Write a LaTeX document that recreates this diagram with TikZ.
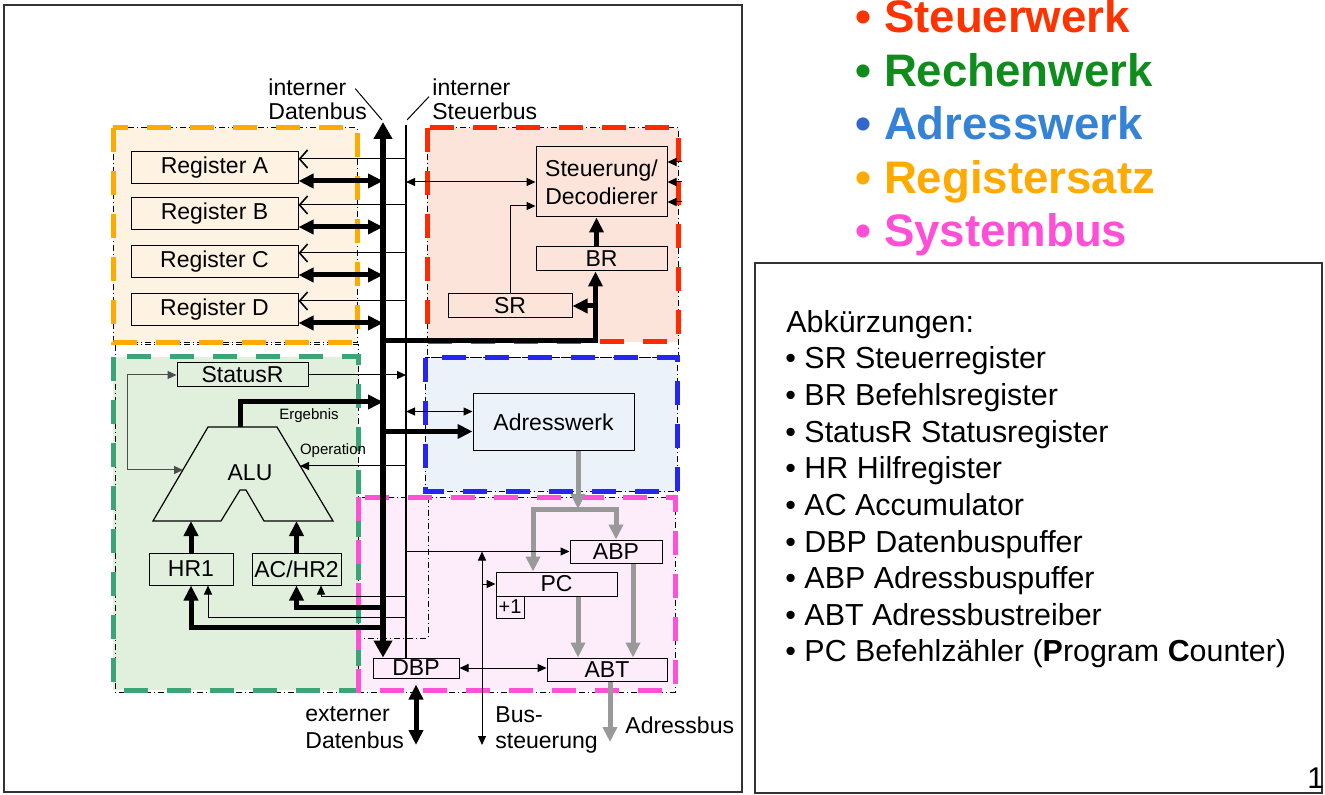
\documentclass[tikz,border=0pt]{standalone}
\usepackage{fontspec}
\setmainfont{Liberation Sans}
\usetikzlibrary{arrows.meta}
\definecolor{regfill}{HTML}{FEF3E2}
\definecolor{regline}{HTML}{FFAA00}
\definecolor{stfill}{HTML}{FCE4DB}
\definecolor{stline}{HTML}{FF2A00}
\definecolor{refill}{HTML}{E1EFDD}
\definecolor{reline}{HTML}{3CA577}
\definecolor{adfill}{HTML}{EBF2FA}
\definecolor{adline}{HTML}{2626F2}
\definecolor{sbfill}{HTML}{FDECFA}
\definecolor{sbline}{HTML}{FF50D8}
\definecolor{keyred}{HTML}{FF3300}
\definecolor{keygreen}{HTML}{108C1C}
\definecolor{keyblue}{HTML}{3483D6}
\definecolor{keyblueb}{HTML}{3366CC}
\definecolor{keyorange}{HTML}{FFAA00}
\definecolor{keypink}{HTML}{FF4FD6}
\definecolor{adrgray}{HTML}{999999}

\begin{document}
\begin{tikzpicture}[x=0.5pt,y=-0.5pt,
  box/.style={draw,line width=0.5pt,inner sep=0pt,font=\fontsize{11.5}{14}\selectfont,align=center},
  lbl/.style={inner sep=0pt,font=\fontsize{11.5}{12}\selectfont,align=left},
  tiny/.style={inner sep=0pt,font=\fontsize{7.5}{9}\selectfont},
  fat/.style={line width=2.5pt},
  fatarr/.style={fat,-{Triangle[length=7.5pt,width=7pt]}},
  fatboth/.style={fat,{Triangle[length=7.5pt,width=7pt]}-{Triangle[length=7.5pt,width=7pt]}},
  thinarr/.style={line width=0.5pt,-{Triangle[length=4.5pt,width=4pt]}},
  thinboth/.style={line width=0.5pt,{Triangle[length=4.5pt,width=4pt]}-{Triangle[length=4.5pt,width=4pt]}},
  ctl/.style={line width=0.5pt,-{Straight Barb[length=4pt,width=9pt,line width=0.8pt]}},
  grayarr/.style={adrgray,fat,-{Triangle[length=7.5pt,width=7pt]}},
  zone/.style={line width=2.5pt,dash pattern=on 12pt off 9.5pt},
  zoneedge/.style={line width=0.5pt,dash pattern=on 3pt off 1.5pt on 0.5pt off 1.5pt}]
\useasboundingbox (0,0) rectangle (1325,795);
\draw[line width=0.75pt,black!80] (4,5) rectangle (742,792);
\draw[line width=0.75pt,black!80] (755,263) rectangle (1322,793);

% Werke
\fill[regfill] (113,128) rectangle (357,343);
\fill[stfill] (427,128) rectangle (678,342);
\fill[refill] (113,357) rectangle (358,690);
\fill[adfill] (425,358) rectangle (677,492);
\fill[sbfill] (358,497) rectangle (675,690);
\draw[zoneedge] (113,128) rectangle (357,343);
\draw[zoneedge] (427,128) rectangle (678,358);
\draw[zoneedge] (115,345) rectangle (358,692);
\draw[zoneedge] (425,358) rectangle (677,492);
\draw[zoneedge] (358,497) rectangle (675,692);
\draw[zoneedge] (428,497) -- (428,638) -- (358,638);
\draw[zone,regline] (113,128) rectangle (357,343);
\draw[zone,stline] (427,128) rectangle (678,342);
\draw[zone,reline] (113,357) rectangle (358,690);
\draw[zone,adline] (425,358) rectangle (677,492);
\draw[zone,sbline] (358,497) rectangle (675,690);

% Register
\foreach \r/\y/\t in {ra/168/A,rb/214/B,rc/262/C,rd/310/D}
  \node[box,minimum width=83.5pt,minimum height=16pt] (\r) at (214.5,\y) {Register \t};
\node[box,minimum width=65.5pt,minimum height=35pt] (st) at (601.5,182) {Steuerung/\\Decodierer};
\node[box,minimum width=65.5pt,minimum height=12pt] (br) at (601.5,259) {BR};
\node[box,minimum width=62pt,minimum height=12pt] (sr) at (510,306) {SR};
\node[box,minimum width=65.5pt,minimum height=12pt] (status) at (242.5,375) {StatusR};
\node[box,minimum width=42pt,minimum height=16pt] (hra) at (191,569) {HR1};
\node[box,minimum width=44.5pt,minimum height=16pt] (hrb) at (296.5,569) {AC/HR2};
\node[box,minimum width=80.5pt,minimum height=28.5pt] (aw) at (553.5,422.5) {Adresswerk};
\node[box,minimum width=46pt,minimum height=11.5pt] (abp) at (616,551.5) {ABP};
\node[box,minimum width=60.5pt,minimum height=12pt] (pc) at (556.5,584) {PC};
\node[box,minimum width=14pt,minimum height=11pt,font=\fontsize{10}{12}\selectfont] (inc) at (510,607) {+1};
\node[box,minimum width=60pt,minimum height=11.5pt] (abt) at (607,669.5) {ABT};
\node[box,minimum width=43pt,minimum height=10pt] (dbp) at (416,668) {DBP};

% ALU
\draw[line width=0.6pt,fill=refill] (208,427) -- (277,427) -- (333,521) -- (264,521) -- (246,490) -- (240,490) -- (221,521) -- (153,521) -- cycle;
\node[font=\fontsize{11.5}{14}\selectfont] (alu) at (250,473) {ALU};
\coordinate (alutop) at (240,427);
\coordinate (alur) at (300,466);
\coordinate (alul) at (183,470);
\coordinate (alubot) at (250,521);

% interne Busse
\coordinate (db) at (383,122);
\coordinate (sb) at (406,125);
\draw[line width=0.75pt] (sb) -- (sb |- dbp.north);
\draw[line width=3pt,{Triangle[length=8.5pt,width=9pt]}-{Triangle[length=8.5pt,width=9pt]}] (db) -- (db |- dbp.north);
\node[lbl,anchor=west] (idb) at (268,99.5) {interner\\Datenbus};
\node[lbl,anchor=west] (isb) at (432,99.5) {interner\\Steuerbus};
\draw[line width=0.5pt] ([xshift=-6pt,yshift=-5pt]idb.north east) -- ([xshift=-0.5pt,yshift=1pt]db);
\draw[line width=0.5pt] ([xshift=-1.5pt,yshift=-9pt]isb.north west) -- ([xshift=0.5pt,yshift=2.5pt]sb);

\foreach \r in {ra,rb,rc,rd}{
  \draw[ctl] ([yshift=4.5pt]\r.east -| sb) -- ([yshift=4.5pt]\r.east);
  \draw[fatboth] ([yshift=-6.5pt]\r.east) -- ([yshift=-6.5pt]\r.east -| db);
}

% Steuerwerk
\draw[thinboth] (st.west -| sb) -- (st.west);
\draw[thinarr] (sr.north) |- ([yshift=-12pt]st.west);
\draw[fatarr] ([xshift=-2.5pt]br.north) -- ([xshift=-2.5pt]st.south);
\coordinate (brin) at ([xshift=-3pt]br.south);
\coordinate (swbus) at (595.5,341);
\draw[fatarr] (swbus -| db) -- (swbus) -- (brin);
\draw[fatarr] (swbus |- sr.east) -- (sr.east);
\foreach \s in {10,0,-10}
  \draw[thinarr] ([xshift=7pt,yshift=\s pt]st.east) -- ([yshift=\s pt]st.east);

% Rechenwerk
\draw[thinarr] (status.east) -- (status.east -| sb);
\coordinate (loop) at (127,374);
\draw[thinboth,black!70] (status.west) -- (status.west -| loop) |- (alul);
\coordinate (erg) at (383,402);
\draw[fatarr] (alutop) |- (erg);
\node[tiny] (erglbl) at (309,416) {Ergebnis};
\node[tiny] (oplbl) at (333,451) {Operation};
\draw[thinarr] (alur -| sb) -- (alur);
\draw[fatarr] (hra.north) -- (hra.north |- alubot);
\draw[fatarr] (hrb.north) -- (hrb.north |- alubot);
\coordinate (hrbin) at ([yshift=-11pt]hrb.south);
\draw[fatarr] (hrbin -| db) -| (hrb.south);
\coordinate (hrain) at ([yshift=-21pt]hra.south);
\draw[fatarr] (hrain -| db) -| (hra.south);
\coordinate (hrbctl) at ([xshift=12.25pt,yshift=-5.5pt]hrb.south);
\draw[thinarr] (hrbctl -| sb) -| ([xshift=12.25pt]hrb.south);
\coordinate (hractl) at ([xshift=8.5pt,yshift=-16pt]hra.south);
\draw[thinarr] (hractl -| sb) -| ([xshift=8.5pt]hra.south);

% Adresswerk
\draw[thinboth] ([yshift=5.5pt]aw.west -| sb) -- ([yshift=5.5pt]aw.west);
\draw[fatarr] ([yshift=-4.5pt]aw.west -| db) -- ([yshift=-4.5pt]aw.west);
\coordinate (split) at (578,509);
\draw[grayarr] ([xshift=12.25pt]aw.south) -- (split);
\draw[grayarr] (split) -| ([xshift=-11.75pt]pc.north);
\draw[grayarr] (split) -| (abp.north);
\draw[grayarr] ([xshift=10.75pt]pc.south) -- ([xshift=10.75pt]pc.south |- abt.north);
\draw[grayarr] ([xshift=8.5pt]abp.south) -- ([xshift=8.5pt]abp.south |- abt.north);
\coordinate (adrbus) at (610,742);
\draw[grayarr] (abt.south -| adrbus) -- (adrbus);

% Systembus
\draw[thinarr] (abp.west -| sb) -- (abp.west);
\coordinate (bst) at (482,745);
\draw[thinboth] (bst |- abp.west) -- (bst);
\draw[thinarr] (pc.west -| bst) -- (pc.west);
\draw[thinboth] (dbp.east) -- (dbp.east -| abt.west);
\coordinate (extdb) at (416,745);
\draw[fatboth] ([yshift=-3pt]dbp.south) -- (extdb);
\node[lbl,anchor=west,font=\fontsize{11.5}{13.5}\selectfont] (extlbl) at (305,727.5) {externer\\Datenbus};
\node[lbl,anchor=west,font=\fontsize{11.5}{13}\selectfont] (bstlbl) at (495,729.5) {Bus-\\steuerung};
\node[lbl,anchor=base west] (adrlbl) at (625,733) {Adressbus};

% Legende
\foreach \t/\c/\b [count=\i from 0] in {Steuerwerk/keyred/keyred,Rechenwerk/keygreen/keygreen,Adresswerk/keyblue/keyblueb,Registersatz/keyorange/keyorange,Systembus/keypink/keypink}
  \node[anchor=base west,inner sep=0pt,font=\fontsize{22.8}{27}\selectfont\bfseries] (key\i) at (855,33+53.5*\i) {\textcolor{\b}{\textbullet}\ \textcolor{\c}{\t}};
\node[anchor=base west,inner sep=0pt,font=\fontsize{15.2}{18}\selectfont] (abk) at (786,333) {Abkürzungen:};
\foreach \t [count=\i from 1] in {SR Steuerregister,BR Befehlsregister,StatusR Statusregister,HR Hilfregister,AC Accumulator,DBP Datenbuspuffer,ABP Adressbuspuffer,ABT Adressbustreiber,{PC Befehlzähler (\textbf{P}rogram \textbf{C}ounter)}}
  \node[anchor=base west,inner sep=0pt,font=\fontsize{15.2}{18}\selectfont] (abk\i) at (785,332.4+36.6*\i) {\textbullet\ \t};
\node[anchor=base west,inner sep=0pt,font=\fontsize{15}{18}\selectfont] (pnum) at (1307,788) {1};
\end{tikzpicture}
\end{document}
